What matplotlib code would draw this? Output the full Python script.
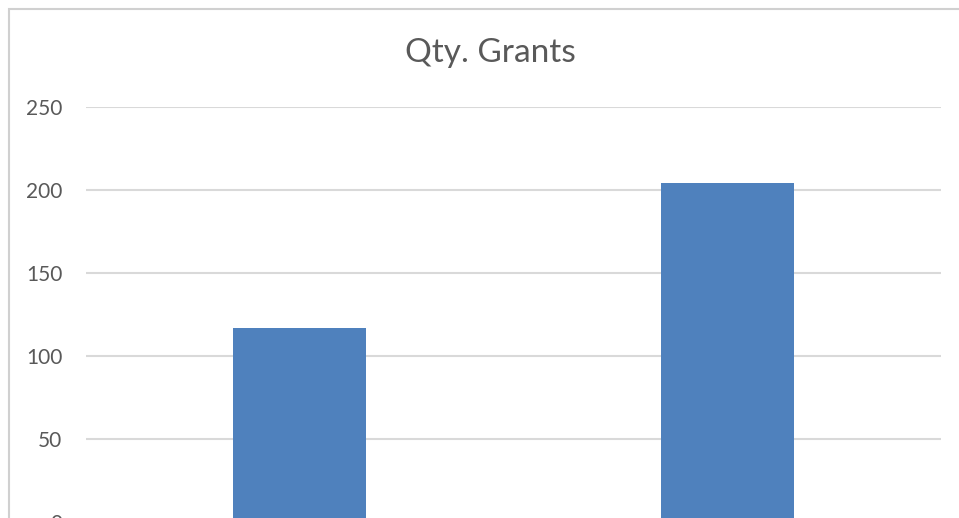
import numpy as np
import matplotlib.pyplot as plt
from matplotlib.patches import Rectangle

# chart data
categories = ["A", "B"]
grants = [117, 204]
y_ticks = [0, 50, 100, 150, 200, 250]

W, H = 959, 518
fig = plt.figure(figsize=(W / 100, H / 100), dpi=100)
fig.patch.set_facecolor("white")

# chart frame (screenshot is cropped at right and bottom)
frame = Rectangle((9 / W, -0.1), 1.2, (H - 9) / H + 0.1, transform=fig.transFigure,
                  facecolor="white", edgecolor="#d0d0d0", linewidth=1.5, zorder=-10)
fig.patches.append(frame)

# plot area: 250 at y=107 px, 0 at y=522 px (just below the image)
left, right = 86 / W, 941 / W
top, bottom = (H - 107) / H, (H - 522) / H
ax = fig.add_axes([left, bottom, right - left, top - bottom])
ax.set_facecolor("none")

x = np.arange(len(categories))
ax.bar(x, grants, width=0.31, color="#4F81BD", zorder=3)
ax.set_xlim(-0.5, len(categories) - 0.5)
ax.set_ylim(0, 250)
ax.set_yticks(y_ticks)
ax.set_xticks([])
ax.yaxis.grid(True, color="#d9d9d9", linewidth=1.5, zorder=0)
ax.set_axisbelow(True)
for s in ax.spines.values():
    s.set_visible(False)
ax.tick_params(axis="y", length=0, pad=17, labelsize=15, labelcolor="#595959")
for lab in ax.get_yticklabels():
    lab.set_fontfamily("Lato")

fig.text(490 / W, 1 - 53 / H, "Qty. Grants", ha="center", va="center",
         fontsize=24, color="#595959", fontfamily="Lato")

fig.savefig("out.png", dpi=100)
